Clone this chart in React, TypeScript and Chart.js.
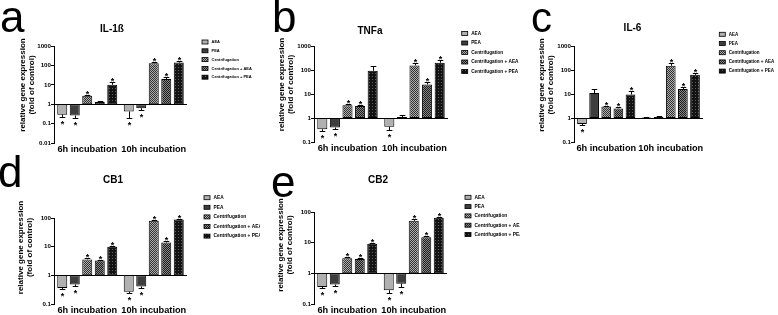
import { useEffect, useRef } from "react";
import { Chart, registerables } from "chart.js";

Chart.register(...registerables);

const FONT = "'Liberation Sans', Arial, Helvetica, sans-serif";

// ---------- shared labels ----------
const categories = ["6h incubation", "10h incubation"];
const seriesLabels = ["AEA", "PEA", "Centrifugation", "Centrifugation + AEA", "Centrifugation + PEA"];
const yAxisTitle = ["relative gene expression", "(fold of control)"];

const ticksA = ["0.01", "0.1", "1", "10", "100", "1000"];
const ticksBC = ["0.1", "1", "10", "100", "1000"];
const ticksDE = ["0.1", "1", "10", "100"];

// ---------- panel a: IL-1ß (rows = series, cols = [6h, 10h]) ----------
const il1bValues = [[0.29, 0.42], [0.26, 0.62], [2.7, 130], [1.3, 20], [10, 140]];
const il1bWhiskers = [[0.21, 0.19], [0.19, 0.48], [3.1, 155], [1.45, 24], [14, 165]];
const il1bStars = [[true, true], [true, true], [true, true], [false, true], [true, true]];

// ---------- panel b: TNFa ----------
const tnfValues = [[0.34, 0.43], [0.4, 1.1], [3.4, 155], [3.2, 25], [93, 200]];
const tnfWhiskers = [[0.28, 0.33], [0.34, 1.3], [3.7, 205], [3.5, 32], [150, 270]];
const tnfStars = [[true, true], [true, false], [true, true], [true, true], [false, true]];

// ---------- panel c: IL-6 ----------
const il6Values = [[0.56, 1.05], [11, 1.1], [3.0, 150], [2.5, 16], [9.5, 63]];
const il6Whiskers = [[0.52, 1.09], [16, 1.25], [3.3, 190], [2.8, 19], [13.5, 72]];
const il6Stars = [[true, false], [false, false], [true, true], [true, true], [true, true]];

// ---------- panel d: CB1 ----------
const cb1Values = [[0.36, 0.27], [0.48, 0.41], [3.6, 80], [3.3, 14], [10, 88]];
const cb1Whiskers = [[0.33, 0.24], [0.42, 0.36], [3.9, 86], [3.5, 16], [10.6, 95]];
const cb1Stars = [[true, true], [true, true], [true, true], [true, true], [true, true]];

// ---------- panel e: CB2 ----------
const cb2Values = [[0.36, 0.28], [0.43, 0.46], [3.1, 52], [2.95, 15], [9.3, 65]];
const cb2Whiskers = [[0.34, 0.22], [0.38, 0.36], [3.35, 57], [3.15, 17], [9.8, 70]];
const cb2Stars = [[true, true], [true, true], [true, true], [true, true], [true, true]];

type Layout = {
  top: number; bottom: number; right: number;
  letterX: number; letterY: number; letterSize: number;
  titleX: number; titleY: number;
  yTitleX: number[]; yTitleY: number;
  legendX: number; legendY: number; legendStep: number; legendFont: number;
};

type Panel = {
  letter: string; title: string;
  left: number; top: number; w: number; h: number;
  min: number; max: number; ticks: string[];
  values: number[][]; whiskers: number[][]; stars: boolean[][];
  L: Layout;
};

const panels: Panel[] = [
  {
    letter: "a", title: "IL-1ß", left: 0, top: 0, w: 260, h: 155, min: 0.01, max: 1000, ticks: ticksA,
    values: il1bValues, whiskers: il1bWhiskers, stars: il1bStars,
    L: { top: 46, bottom: 143, right: 187, letterX: 0, letterY: 32, letterSize: 44, titleX: 112, titleY: 29,
      yTitleX: [22.7, 31.7], yTitleY: 85, legendX: 202, legendY: 42, legendStep: 8.8, legendFont: 4 },
  },
  {
    letter: "b", title: "TNFa", left: 260, top: 0, w: 260, h: 155, min: 0.1, max: 1000, ticks: ticksBC,
    values: tnfValues, whiskers: tnfWhiskers, stars: tnfStars,
    L: { top: 46, bottom: 142, right: 188, letterX: 12, letterY: 32, letterSize: 44, titleX: 110, titleY: 31,
      yTitleX: [21.7, 30.7], yTitleY: 84.5, legendX: 201.7, legendY: 33.5, legendStep: 9.5, legendFont: 4.7 },
  },
  {
    letter: "c", title: "IL-6", left: 520, top: 0, w: 258, h: 155, min: 0.1, max: 1000, ticks: ticksBC,
    values: il6Values, whiskers: il6Whiskers, stars: il6Stars,
    L: { top: 46, bottom: 142, right: 183, letterX: 11, letterY: 32, letterSize: 42, titleX: 112.5, titleY: 28.5,
      yTitleX: [21.7, 30.3], yTitleY: 85, legendX: 199.3, legendY: 34.3, legendStep: 9.2, legendFont: 4.5 },
  },
  {
    letter: "d", title: "CB1", left: 0, top: 155, w: 260, h: 160, min: 0.1, max: 100, ticks: ticksDE,
    values: cb1Values, whiskers: cb1Whiskers, stars: cb1Stars,
    L: { top: 63, bottom: 149, right: 187, letterX: -2, letterY: 32, letterSize: 44, titleX: 113, titleY: 25,
      yTitleX: [20.7, 30], yTitleY: 92.5, legendX: 204, legendY: 42.7, legendStep: 9.6, legendFont: 4.8 },
  },
  {
    letter: "e", title: "CB2", left: 260, top: 155, w: 260, h: 160, min: 0.1, max: 100, ticks: ticksDE,
    values: cb2Values, whiskers: cb2Whiskers, stars: cb2Stars,
    L: { top: 57, bottom: 149, right: 187, letterX: 11, letterY: 42, letterSize: 44, titleX: 118, titleY: 25,
      yTitleX: [20.7, 30], yTitleY: 90, legendX: 205, legendY: 42.3, legendStep: 9.3, legendFont: 4.8 },
  },
];

function makePattern(size: number, bg: string, fg: string, cells: number[][]): CanvasPattern | string {
  const c = document.createElement("canvas");
  c.width = size;
  c.height = size;
  const ctx = c.getContext("2d");
  if (!ctx) return bg;
  ctx.fillStyle = bg;
  ctx.fillRect(0, 0, size, size);
  ctx.fillStyle = fg;
  cells.forEach(([x, y]) => ctx.fillRect(x, y, 1, 1));
  return ctx.createPattern(c, "repeat") || bg;
}

function makeFills(): (CanvasPattern | string)[] {
  return [
    "#b0b0b0",
    "#3e3e3e",
    makePattern(2, "#b0b0b0", "#303030", [[0, 0], [1, 1]]),
    makePattern(2, "#888888", "#1c1c1c", [[0, 0], [1, 1]]),
    makePattern(3, "#121212", "#5e5e5e", [[1, 1]]),
  ];
}

function makeDecor(p: Panel, fills: (CanvasPattern | string)[]) {
  return {
    id: "decor" + p.letter,
    afterDatasetsDraw(chart: any) {
      const ctx: CanvasRenderingContext2D = chart.ctx;
      const y = chart.scales.y;
      ctx.save();
      ctx.strokeStyle = "#000";
      ctx.fillStyle = "#000";
      ctx.lineWidth = 1;
      p.values.forEach((row, si) => {
        const meta = chart.getDatasetMeta(si);
        row.forEach((v, ci) => {
          const el = meta.data[ci];
          if (!el) return;
          const x = Math.round(el.x) + 0.5;
          const half = el.width * 0.28;
          const w = p.whiskers[si][ci];
          const pv = y.getPixelForValue(v);
          const pw = Math.round(y.getPixelForValue(w)) + 0.5;
          ctx.beginPath();
          ctx.moveTo(x, pv);
          ctx.lineTo(x, pw);
          ctx.moveTo(x - half, pw);
          ctx.lineTo(x + half, pw);
          ctx.stroke();
          if (p.stars[si][ci]) {
            ctx.font = `bold 9px ${FONT}`;
            ctx.textAlign = "center";
            ctx.textBaseline = "alphabetic";
            const up = v >= 1;
            ctx.fillText("*", x, up ? pw + 1 : pw + 9);
          }
        });
      });
      ctx.restore();
    },
    afterDraw(chart: any) {
      const ctx: CanvasRenderingContext2D = chart.ctx;
      const L = p.L;
      ctx.save();
      ctx.fillStyle = "#000";
      // panel letter
      ctx.font = `${L.letterSize}px ${FONT}`;
      ctx.textAlign = "left";
      ctx.textBaseline = "alphabetic";
      ctx.fillText(p.letter, L.letterX, L.letterY);
      // title
      ctx.font = `bold 10px ${FONT}`;
      ctx.textAlign = "center";
      ctx.textBaseline = "middle";
      ctx.fillText(p.title, L.titleX, L.titleY);
      // y-axis title
      ctx.font = `bold 8px ${FONT}`;
      yAxisTitle.forEach((line, i) => {
        ctx.save();
        ctx.translate(L.yTitleX[i], L.yTitleY);
        ctx.rotate(-Math.PI / 2);
        ctx.fillText(line, 0, 0);
        ctx.restore();
      });
      // legend
      ctx.font = `bold ${L.legendFont}px ${FONT}`;
      ctx.textAlign = "left";
      ctx.lineWidth = 0.8;
      ctx.strokeStyle = "#000";
      seriesLabels.forEach((label, i) => {
        const yy = L.legendY + i * L.legendStep;
        ctx.fillStyle = fills[i] as any;
        ctx.fillRect(L.legendX, yy - 2, 6, 4);
        ctx.strokeRect(L.legendX, yy - 2, 6, 4);
        ctx.fillStyle = "#000";
        ctx.fillText(label, L.legendX + 9.5, yy);
      });
      ctx.restore();
    },
  };
}

function buildConfig(p: Panel): any {
  const fills = makeFills();
  const L = p.L;
  return {
    type: "bar",
    data: {
      labels: categories,
      datasets: seriesLabels.map((label, si) => ({
        label,
        data: p.values[si].map((v) => [1, v]),
        backgroundColor: fills[si],
        borderColor: "#000",
        borderWidth: 1,
        borderSkipped: false,
        categoryPercentage: 0.94,
        barPercentage: 0.8,
      })),
    },
    options: {
      responsive: false,
      maintainAspectRatio: false,
      animation: false,
      devicePixelRatio: 1,
      layout: { padding: { left: 0, top: L.top, right: p.w - L.right, bottom: 0 } },
      plugins: {
        legend: { display: false },
        title: { display: false },
        tooltip: { enabled: false },
      },
      scales: {
        x: {
          type: "category",
          grid: { display: false, drawTicks: false, tickLength: 0 },
          border: { display: false },
          ticks: {
            color: "#000",
            font: { family: FONT, size: 9.2, weight: "bold" },
            padding: 1,
            autoSkip: false,
            maxRotation: 0,
          },
          afterFit: (s: any) => {
            s.height = p.h - L.bottom;
          },
        },
        y: {
          type: "logarithmic",
          min: p.min,
          max: p.max,
          border: { display: true, color: "#000", width: 1 },
          grid: {
            drawOnChartArea: true,
            color: (c: any) => (c.tick && c.tick.value === 1 ? "#000" : "rgba(0,0,0,0)"),
            tickColor: "#000",
            tickLength: 3,
            lineWidth: 1,
          },
          ticks: {
            color: "#000",
            font: { family: FONT, size: 6.2, weight: "bold" },
            padding: 0,
            autoSkip: false,
            callback: (value: number) => {
              const t = p.ticks.find((l) => Number(l) === value);
              return t === undefined ? "" : t;
            },
          },
          afterBuildTicks: (s: any) => {
            s.ticks = p.ticks.map((t) => ({ value: Number(t) }));
          },
          afterFit: (s: any) => {
            s.width = 54;
          },
        },
      },
    },
    plugins: [makeDecor(p, fills)],
  };
}

function PanelChart({ p }: { p: Panel }) {
  const ref = useRef<HTMLCanvasElement>(null);
  useEffect(() => {
    if (!ref.current) return;
    const chart = new Chart(ref.current, buildConfig(p));
    return () => chart.destroy();
  }, [p]);
  return (
    <canvas
      ref={ref}
      width={p.w}
      height={p.h}
      style={{ position: "absolute", left: p.left, top: p.top, width: p.w, height: p.h }}
    />
  );
}

export default function App() {
  return (
    <div
      style={{
        position: "fixed",
        left: 0,
        top: 0,
        width: 778,
        height: 315,
        background: "#fff",
        overflow: "hidden",
      }}
    >
      {panels.map((p) => (
        <PanelChart key={p.letter} p={p} />
      ))}
    </div>
  );
}
